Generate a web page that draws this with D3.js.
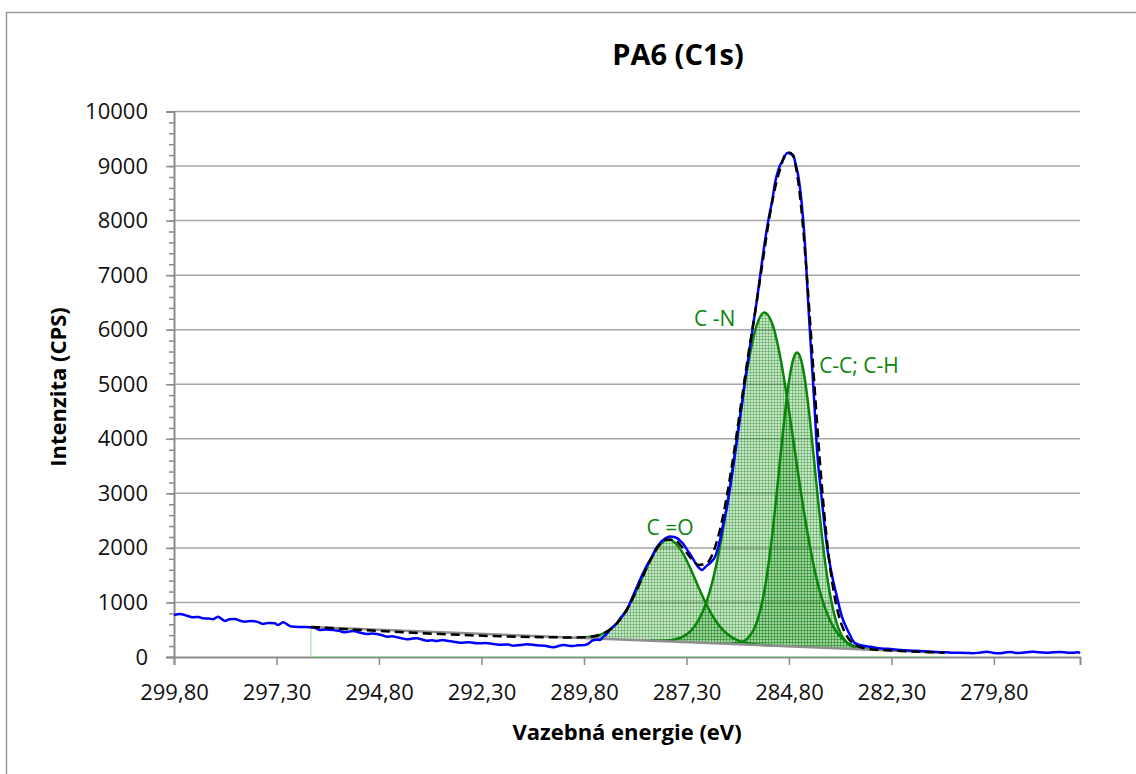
<!DOCTYPE html>
<html>
<head>
<meta charset="utf-8">
<script src="https://cdn.jsdelivr.net/npm/d3@7"></script>
<style>
  html, body { margin: 0; padding: 0; background: #fff; }
  svg { display: block; font-family: 'Open Sans', 'Noto Sans', sans-serif; }
</style>
</head>
<body>
<svg id="chart" width="1136" height="774"></svg>
<script>
// Binding-energy axis ticks (eV) and intensity ticks (CPS)
const energyTicks = [299.8, 297.3, 294.8, 292.3, 289.8, 287.3, 284.8, 282.3, 279.8];
const intensityTicks = [0, 1000, 2000, 3000, 4000, 5000, 6000, 7000, 8000, 9000, 10000];
const intensityMinorTicks = d3.range(0, 10001, 200);

// Measured C1s spectrum [eV, CPS]
const measured = [
  [299.80,770],[299.65,789],[299.50,760],[299.34,728],[299.20,735],[299.10,710],[298.95,705],[298.85,691],
  [298.73,740],[298.56,661],[298.45,690],[298.31,697],[298.20,668],[298.07,648],[297.90,660],[297.78,648],
  [297.63,606],[297.50,625],[297.34,618],[297.26,587],[297.14,637],[297.00,580],[296.92,557],[296.70,550],
  [296.48,545],[296.35,530],[296.24,495],[296.10,505],[295.92,495],[295.78,480],[295.63,453],[295.43,477],
  [295.25,445],[295.09,422],[294.95,430],[294.85,422],[294.72,400],[294.60,373],[294.48,380],[294.36,361],
  [294.25,345],[294.12,324],[293.98,338],[293.87,343],[293.75,320],[293.63,299],[293.50,305],[293.39,294],
  [293.25,310],[293.14,299],[292.98,280],[292.82,263],[292.60,270],[292.41,251],[292.20,255],[292.02,239],
  [291.80,225],[291.65,230],[291.53,208],[291.35,220],[291.19,233],[291.05,225],[290.95,215],[290.75,205],
  [290.56,178],[290.45,195],[290.31,220],[290.20,210],[290.07,202],[289.95,215],[289.78,220],[289.68,250],
  [289.60,299],[289.50,318],[289.41,312],[289.34,361],[289.25,420],[289.17,495],[289.08,560],[289.00,618],
  [288.88,740],[288.75,862],[288.66,1020],[288.56,1198],[288.46,1370],[288.36,1536],[288.25,1700],[288.14,1840],
  [288.05,1980],[287.95,2086],[287.82,2170],[287.70,2208],[287.60,2200],[287.53,2178],[287.45,2130],[287.39,2086],
  [287.28,1960],[287.17,1840],[287.08,1720],[287.02,1657],[286.92,1596],[286.85,1640],[286.78,1688],[286.70,1740],
  [286.60,1840],[286.55,1950],[286.48,2147],[286.40,2450],[286.31,2758],[286.24,3080],[286.17,3431],[286.08,3900],
  [286.00,4349],[285.93,4720],[285.87,5083],[285.80,5420],[285.75,5694],[285.67,6100],[285.58,6550],[285.50,7000],
  [285.40,7550],[285.30,8018],[285.20,8400],[285.14,8690],[285.05,8950],[284.94,9119],[284.84,9240],[284.77,9230],
  [284.69,9180],[284.62,8980],[284.57,8810],[284.49,8324],[284.41,7590],[284.33,6490],[284.25,5500],[284.18,4650],
  [284.12,3853],[284.00,2900],[283.87,2018],[283.75,1500],[283.63,1107],[283.50,720],[283.40,540],[283.31,400],
  [283.20,260],[283.07,220],[282.95,200],[282.82,189],[282.60,160],[282.40,150],[282.26,141],[282.00,125],
  [281.80,115],[281.60,110],[281.40,100],[281.20,92],[280.95,86],[280.80,80],[280.60,79],[280.45,75],
  [280.31,68],[280.15,80],[279.97,97],[279.80,75],[279.65,68],[279.50,85],[279.40,92],[279.30,80],
  [279.17,73],[279.00,85],[278.85,97],[278.70,85],[278.51,79],[278.35,88],[278.19,92],[278.00,80],
  [277.87,79],[277.75,85],[277.70,68]
];

// Background under the fitted region [eV, CPS]
const background = [[296.46, 550], [281.0, 80]];

// Fitted envelope (background + components) [eV, CPS]
const fitEnvelope = [
  [296.46,550],[290.0,359],[289.8,361],[289.6,374],[289.4,410],[289.2,484],[289.0,614],[288.8,816],
  [288.6,1091],[288.4,1417],[288.2,1747],[288.0,2013],[287.8,2156],[287.6,2148],[287.4,2012],[287.2,1823],
  [287.0,1688],[286.8,1724],[286.6,2019],[286.4,2609],[286.2,3463],[286.0,4471],[285.8,5498],[285.6,6442],
  [285.5,6950],[285.4,7450],[285.3,7950],[285.2,8380],[285.1,8720],[285.0,8980],[284.9,9200],[284.8,9250],
  [284.7,9200],[284.6,8850],[284.5,8236],[284.4,7359],[284.3,6327],[284.2,5225],[284.1,4147],[284.0,3165],
  [283.9,2331],[283.8,1667],[283.7,1164],[283.6,804],[283.4,397],[283.2,232],[283.0,169],[282.8,143],
  [282.6,132],[282.4,123],[281.0,80]
];

// Fitted components, including background [eV, CPS]
const peakCO = [
  [290.0,359],[289.8,361],[289.6,374],[289.4,410],[289.2,484],[289.0,614],[288.8,816],[288.6,1091],
  [288.4,1417],[288.2,1745],[288.0,2008],[287.8,2141],[287.7,2148],[287.6,2109],[287.4,1919],[287.2,1618],
  [287.0,1271],[286.8,945],[286.6,679],[286.4,487],[286.2,364],[286.0,291],[285.8,252],[285.6,230],
  [285.4,218],[285.2,209]
];
const peakCN = [
  [288.2,301],[288.0,299],[287.8,302],[287.6,320],[287.4,368],[287.2,474],[287.0,679],[286.8,1035],
  [286.6,1590],[286.4,2366],[286.2,3331],[286.0,4382],[285.8,5352],[285.6,6048],[285.4,6314],[285.2,6095],
  [285.0,5455],[284.8,4528],[284.6,3492],[284.4,2510],[284.2,1693],[284.0,1083],[283.8,673],[283.6,420],
  [283.4,277],[283.2,202],[283.0,163],[282.8,143]
];
const peakCC = [
  [286.2,244],[286.0,262],[285.8,346],[285.6,604],[285.4,1208],[285.2,2290],[285.1,2990],[285.0,3734],
  [284.9,4449],[284.8,5045],[284.7,5443],[284.6,5580],[284.5,5437],[284.4,5032],[284.3,4430],[284.2,3709],
  [284.1,2959],[284.0,2253],[283.9,1644],[283.8,1159],[283.7,796],[283.6,543],[283.4,273],[283.2,177],
  [283.0,147]
];

const componentNames = ["C =O", "C -N", "C-C; C-H"];

// ---------------------------------------------------------------------------
const svg = d3.select("#chart");
const x = d3.scaleLinear().domain([299.8, 277.7]).range([174, 1080]);
const y = d3.scaleLinear().domain([0, 10000]).range([657, 111.5]);
const bgAt = d3.scaleLinear().domain(background.map(d => d[0])).range(background.map(d => d[1]));

const GRID = "#a6a6a6", AXIS = "#8c8c8c", GREEN = "#0a840a";

// outer chart frame
svg.append("rect")
  .attr("x", 6.5).attr("y", 12.5).attr("width", 1200).attr("height", 900)
  .attr("fill", "none").attr("stroke", "#9a9a9a").attr("stroke-width", 1.5);

// grid texture for the component areas
const defs = svg.append("defs");
const pat = defs.append("pattern").attr("id", "fine-grid")
  .attr("width", 3).attr("height", 3).attr("patternUnits", "userSpaceOnUse");
pat.append("rect").attr("width", 3).attr("height", 3).attr("fill", "rgba(70,170,70,0.30)");
pat.append("path").attr("d", "M0 0.5H3M0.5 0V3")
  .attr("stroke", "rgba(0,120,0,0.30)").attr("stroke-width", 1);

// horizontal gridlines
svg.append("g").selectAll("line")
  .data(intensityTicks.filter(v => v > 0))
  .join("line")
  .attr("x1", x.range()[0]).attr("x2", x.range()[1])
  .attr("y1", d => y(d)).attr("y2", d => y(d))
  .attr("stroke", GRID).attr("stroke-width", 1.5);

// component areas over the background
const area = d3.area()
  .x(d => x(d[0]))
  .y0(d => y(bgAt(d[0])))
  .y1(d => y(d[1]))
  .curve(d3.curveMonotoneX);
const components = [peakCO, peakCN, peakCC];
svg.append("g").selectAll("path")
  .data(components)
  .join("path")
  .attr("d", area)
  .attr("fill", "url(#fine-grid)");

// axes
const yMinor = svg.append("g").attr("transform", `translate(${x.range()[0]},0)`)
  .call(d3.axisLeft(y).tickValues(intensityMinorTicks).tickSize(5).tickFormat(""));
const yAxis = svg.append("g").attr("transform", `translate(${x.range()[0]},0)`)
  .call(d3.axisLeft(y).tickValues(intensityTicks).tickSize(8).tickPadding(18).tickFormat(d3.format("d")));
const xAxis = svg.append("g").attr("transform", `translate(0,${y(0)})`)
  .call(d3.axisBottom(x).tickValues(energyTicks).tickSize(8)
    .tickFormat(d => d.toFixed(2).replace(".", ",")));

[yMinor, yAxis, xAxis].forEach(g => {
  g.select(".domain").attr("stroke", AXIS).attr("stroke-width", 2);
  g.selectAll(".tick line").attr("stroke", AXIS).attr("stroke-width", 1.5);
});
yMinor.select(".domain").remove();
yAxis.selectAll("text").attr("font-size", 22).attr("fill", "#111")
  .attr("font-family", "'Open Sans', sans-serif");
xAxis.selectAll("text").attr("font-size", 22).attr("fill", "#111")
  .attr("font-family", "'Open Sans', sans-serif")
  .attr("y", 43).attr("dy", null);

// thin guide of the fitted range
const bg0 = background[0], bg1 = background[background.length - 1];
svg.append("path")
  .attr("d", `M${x(bg0[0])},${y(bg0[1])}V${y(0) - 0.5}H${x(bg1[0])}`)
  .attr("fill", "none").attr("stroke", "#9fd89f").attr("stroke-width", 1);

const line = d3.line().x(d => x(d[0])).y(d => y(d[1])).curve(d3.curveMonotoneX);

// component outlines
svg.append("g").selectAll("path")
  .data(components)
  .join("path")
  .attr("d", line)
  .attr("fill", "none").attr("stroke", GREEN).attr("stroke-width", 2.5);

// background line
svg.append("path").datum(background)
  .attr("d", d3.line().x(d => x(d[0])).y(d => y(d[1])))
  .attr("fill", "none").attr("stroke", "#8f8f8f").attr("stroke-width", 2.5);

// measured spectrum
svg.append("path").datum(measured)
  .attr("d", line)
  .attr("fill", "none").attr("stroke", "#0000ff").attr("stroke-width", 2.5)
  .attr("stroke-linejoin", "round");

// fitted envelope
svg.append("path").datum(fitEnvelope)
  .attr("d", line)
  .attr("fill", "none").attr("stroke", "#000").attr("stroke-width", 2.5)
  .attr("stroke-dasharray", "9,5");

// component labels, placed by each component's maximum
const labelOffsets = [
  { dx: 0, dy: -5, anchor: "middle" },
  { dx: -29, dy: 13, anchor: "end" },
  { dx: 22, dy: 20, anchor: "start" }
];
components.forEach((comp, i) => {
  const top = comp.reduce((a, b) => (b[1] > a[1] ? b : a));
  const o = labelOffsets[i];
  svg.append("text")
    .attr("x", x(top[0]) + o.dx).attr("y", y(top[1]) + o.dy)
    .attr("text-anchor", o.anchor)
    .attr("font-size", 21).attr("fill", GREEN)
    .text(componentNames[i]);
});

// titles
svg.append("text")
  .attr("x", 678).attr("y", 65).attr("text-anchor", "middle")
  .attr("font-size", 29).attr("font-weight", "bold").attr("fill", "#000")
  .text("PA6 (C1s)");
svg.append("text")
  .attr("x", 627).attr("y", 740).attr("text-anchor", "middle")
  .attr("font-size", 22).attr("font-weight", "bold").attr("fill", "#000")
  .text("Vazebná energie (eV)");
svg.append("text")
  .attr("transform", "translate(66,387) rotate(-90)").attr("text-anchor", "middle")
  .attr("font-size", 22).attr("font-weight", "bold").attr("fill", "#000")
  .text("Intenzita (CPS)");
</script>
</body>
</html>
